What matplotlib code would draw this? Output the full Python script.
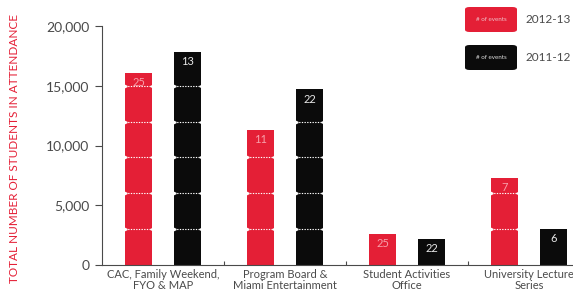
import matplotlib
matplotlib.use("Agg")
import matplotlib.pyplot as plt
from matplotlib.patches import FancyBboxPatch
import numpy as np

# data
categories = ["CAC, Family Weekend,\nFYO & MAP",
              "Program Board &\nMiami Entertainment",
              "Student Activities\nOffice",
              "University Lecture\nSeries"]
attend_1213 = [16100, 11300, 2600, 7300]
attend_1112 = [17800, 14700, 2200, 3000]
events_1213 = [25, 11, 25, 7]
events_1112 = [13, 22, 22, 6]
yticks = [0, 5000, 10000, 15000, 20000]

RED = "#e41f36"
BLACK = "#0b0b0b"
GREY = "#4a4a4a"

plt.rcParams['font.family'] = ['Lato', 'DejaVu Sans']

fig = plt.figure(figsize=(5.73, 2.97), dpi=100)
ax = fig.add_axes([102 / 573, 32 / 297, 471 / 573, 239 / 297])

x = np.arange(len(categories))
off = 0.2
w = 0.22
ax.bar(x - off, attend_1213, width=w, color=RED, zorder=2)
ax.bar(x + off, attend_1112, width=w, color=BLACK, zorder=2)

# block segments every 3000 students
for xs, vals in ((x - off, attend_1213), (x + off, attend_1112)):
    for xc, v in zip(xs, vals):
        segs = np.arange(3000, v - 500, 3000)
        if len(segs):
            ax.hlines(segs, xc - w / 2, xc + w / 2, colors="white",
                      linestyles=(0, (1.2, 1.2)), lw=0.8, zorder=3)
            ax.plot([xc - w / 2] * len(segs), segs, ls="none", marker=">",
                    ms=2.5, color="white", zorder=3)
            ax.plot([xc + w / 2] * len(segs), segs, ls="none", marker="<",
                    ms=2.5, color="white", zorder=3)

for xc, v, n in zip(x - off, attend_1213, events_1213):
    ax.text(xc, v - 350, str(n), ha="center", va="top", fontsize=8,
            color="#f7a0aa", zorder=4)
for xc, v, n in zip(x + off, attend_1112, events_1112):
    ax.text(xc, v - 350, str(n), ha="center", va="top", fontsize=8,
            color="#e8e8e8", zorder=4)

ax.set_xlim(-0.5, 3.36)
ax.set_ylim(0, 20000)
ax.set_yticks(yticks)
ax.set_yticklabels([f"{t:,}" for t in yticks], fontsize=10, color=GREY)
ax.tick_params(axis="y", direction="out", length=5, width=0.8, color=GREY, pad=4)

ax.set_xticks(x)
ax.set_xticklabels(categories, fontsize=8, color=GREY, linespacing=0.95)
ax.tick_params(axis="x", length=0, pad=3)
ax.set_xticks([0.5, 1.5, 2.5], minor=True)
ax.tick_params(axis="x", which="minor", direction="in", length=3, width=0.8, color=GREY)

for s in ("top", "right"):
    ax.spines[s].set_visible(False)
for s in ("left", "bottom"):
    ax.spines[s].set_color(GREY)
    ax.spines[s].set_linewidth(0.8)

fig.text(15 / 573, 0.5, "TOTAL NUMBER OF STUDENTS IN ATTENDANCE", rotation=90,
         ha="center", va="center", fontsize=8.5, color=RED)

# legend boxes
for y0, col, lab in ((7, RED, "2012-13"), (45, BLACK, "2011-12")):
    box = FancyBboxPatch((465 / 573, (297 - y0 - 25) / 297), 52 / 573, 25 / 297,
                         boxstyle="round,pad=0,rounding_size=0.008",
                         transform=fig.transFigure, facecolor=col, edgecolor="none")
    fig.add_artist(box)
    fig.text(491 / 573, (297 - y0 - 12.5) / 297, "# of events", ha="center",
             va="center", fontsize=4.5, color="#f0c0c8" if col == RED else "#dddddd")
    fig.text(526 / 573, (297 - y0 - 12.5) / 297, lab, ha="left", va="center",
             fontsize=8.5, color=GREY)

fig.savefig("out.png", dpi=100)
